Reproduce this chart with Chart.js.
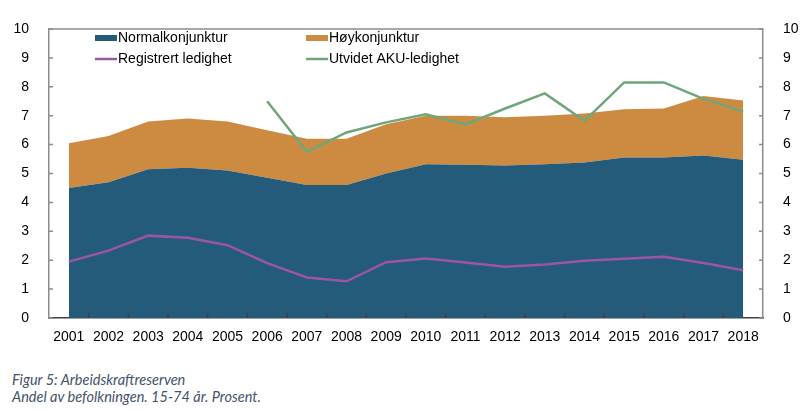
<!DOCTYPE html>
<html>
<head>
<meta charset="utf-8">
<script src="https://cdn.jsdelivr.net/npm/chart.js@4.4.1/dist/chart.umd.min.js"></script>
<style>
  body { margin: 0; background: #fff; }
  .wrap { position: relative; width: 802px; height: 411px; }
  canvas { position: absolute; left: 0; top: 0; }
  .caption {
    position: absolute; left: 12px; top: 371px;
    font-family: Lato, "Open Sans", sans-serif; font-style: italic;
    font-size: 14.5px; line-height: 17px; color: #44546a;
  }
</style>
</head>
<body>
<div class="wrap">
  <canvas id="graphCanvas" width="802" height="350"></canvas>
  <div class="caption">
    Figur 5: Arbeidskraftreserven<br>
    Andel av befolkningen. 15-74 år. Prosent.
  </div>
</div>
<script>
const years = ["2001", "2002", "2003", "2004", "2005", "2006", "2007", "2008", "2009",
  "2010", "2011", "2012", "2013", "2014", "2015", "2016", "2017", "2018"];

// Normalkonjunktur (bunnflate)
const normal = [4.5, 4.7, 5.15, 5.2, 5.1, 4.85, 4.6, 4.6, 5.0,
  5.32, 5.3, 5.28, 5.32, 5.38, 5.55, 5.55, 5.62, 5.48];
// Høykonjunktur, toppen av flaten
const hoyTotal = [6.05, 6.3, 6.8, 6.9, 6.8, 6.5, 6.2, 6.2, 6.7,
  7.0, 7.0, 6.95, 7.0, 7.08, 7.22, 7.25, 7.68, 7.53];
const registrert = [1.95, 2.33, 2.85, 2.78, 2.52, 1.9, 1.4, 1.27, 1.93,
  2.06, 1.92, 1.77, 1.85, 1.98, 2.05, 2.12, 1.9, 1.65];
const aku = [null, null, null, null, null, 7.5, 5.75, 6.42, 6.77,
  7.05, 6.7, 7.25, 7.77, 6.82, 8.15, 8.15, 7.58, 7.15];
const yTicks = [0, 1, 2, 3, 4, 5, 6, 7, 8, 9, 10];

const hoy = hoyTotal.map((v, i) => +(v - normal[i]).toFixed(2));

const blue = "#245a7a";
const orange = "#cd8b42";
const purple = "#9c55a6";
const green = "#6fa67b";
const axisGrey = "#8c8c8c";

// legend layout: [datasetIndex, x, y]
const legendSlots = [[2, 95, 38], [3, 306, 38], [1, 95, 59], [0, 306, 59]];

const boxAndTicks = {
  id: "boxAndTicks",
  afterDraw(chart) {
    const { ctx, chartArea: a, scales } = chart;
    ctx.save();
    ctx.strokeStyle = axisGrey;
    ctx.lineWidth = 1.5;
    ctx.beginPath();
    ctx.moveTo(a.left, a.top); ctx.lineTo(a.right, a.top);
    ctx.stroke();
    // y ticks, inside on both sides
    yTicks.forEach((v) => {
      const py = scales.y.getPixelForValue(v);
      ctx.beginPath();
      ctx.moveTo(a.left, py); ctx.lineTo(a.left + 4, py);
      ctx.moveTo(a.right, py); ctx.lineTo(a.right - 4, py);
      ctx.stroke();
    });
    // x ticks between categories
    ctx.strokeStyle = "#404040";
    for (let i = 0; i < years.length - 1; i++) {
      const px = (scales.x.getPixelForValue(i) + scales.x.getPixelForValue(i + 1)) / 2;
      ctx.beginPath();
      ctx.moveTo(px, a.bottom); ctx.lineTo(px, a.bottom - 5);
      ctx.stroke();
    }
    // legend
    ctx.font = "14px 'Liberation Sans', Arial, sans-serif";
    ctx.textBaseline = "middle";
    ctx.fillStyle = "#000";
    legendSlots.forEach(([idx, x, y]) => {
      const ds = chart.data.datasets[idx];
      if (ds.fill) {
        ctx.fillStyle = ds.backgroundColor;
        ctx.fillRect(x, y - 3, 22, 6);
      } else {
        ctx.strokeStyle = ds.borderColor;
        ctx.lineWidth = 2.5;
        ctx.beginPath();
        ctx.moveTo(x, y); ctx.lineTo(x + 22, y);
        ctx.stroke();
      }
      ctx.fillStyle = "#000";
      ctx.fillText(ds.label, x + 23, y);
    });
    ctx.restore();
  },
};

const tickFont = { family: "'Liberation Sans', Arial, sans-serif", size: 14 };

new Chart(document.getElementById("graphCanvas"), {
  type: "line",
  data: {
    labels: years,
    datasets: [
      { label: "Utvidet AKU-ledighet", data: aku, stack: "aku", borderColor: green,
        borderWidth: 2.5, pointRadius: 0, fill: false, tension: 0 },
      { label: "Registrert ledighet", data: registrert, stack: "reg", borderColor: purple,
        borderWidth: 2.5, pointRadius: 0, fill: false, tension: 0 },
      { label: "Normalkonjunktur", data: normal, stack: "area", backgroundColor: blue,
        borderWidth: 0, pointRadius: 0, fill: "origin", tension: 0 },
      { label: "Høykonjunktur", data: hoy, stack: "area", backgroundColor: orange,
        borderWidth: 0, pointRadius: 0, fill: "-1", tension: 0 },
    ],
  },
  options: {
    responsive: false,
    animation: false,
    layout: { padding: { top: 29, left: 0, right: 0, bottom: 0 } },
    plugins: { legend: { display: false }, tooltip: { enabled: false } },
    scales: {
      x: {
        offset: true,
        grid: { display: false, offset: true },
        border: { color: "#404040", width: 1.5 },
        ticks: { color: "#000", font: tickFont, padding: 3, maxRotation: 0, autoSkip: false },
        afterFit: (s) => { s.height = 32; },
      },
      y: {
        stacked: true,
        min: 0, max: 10,
        grid: { display: false },
        border: { color: axisGrey, width: 1.5 },
        ticks: { stepSize: 1, color: "#000", font: tickFont, padding: 12 },
        afterFit: (s) => { s.width = 49; },
      },
      y2: {
        position: "right",
        min: 0, max: 10,
        grid: { display: false },
        border: { color: axisGrey, width: 1.5 },
        ticks: { stepSize: 1, color: "#000", font: tickFont, padding: 12 },
        afterFit: (s) => { s.width = 39; },
      },
    },
  },
  plugins: [boxAndTicks],
});
</script>
</body>
</html>
